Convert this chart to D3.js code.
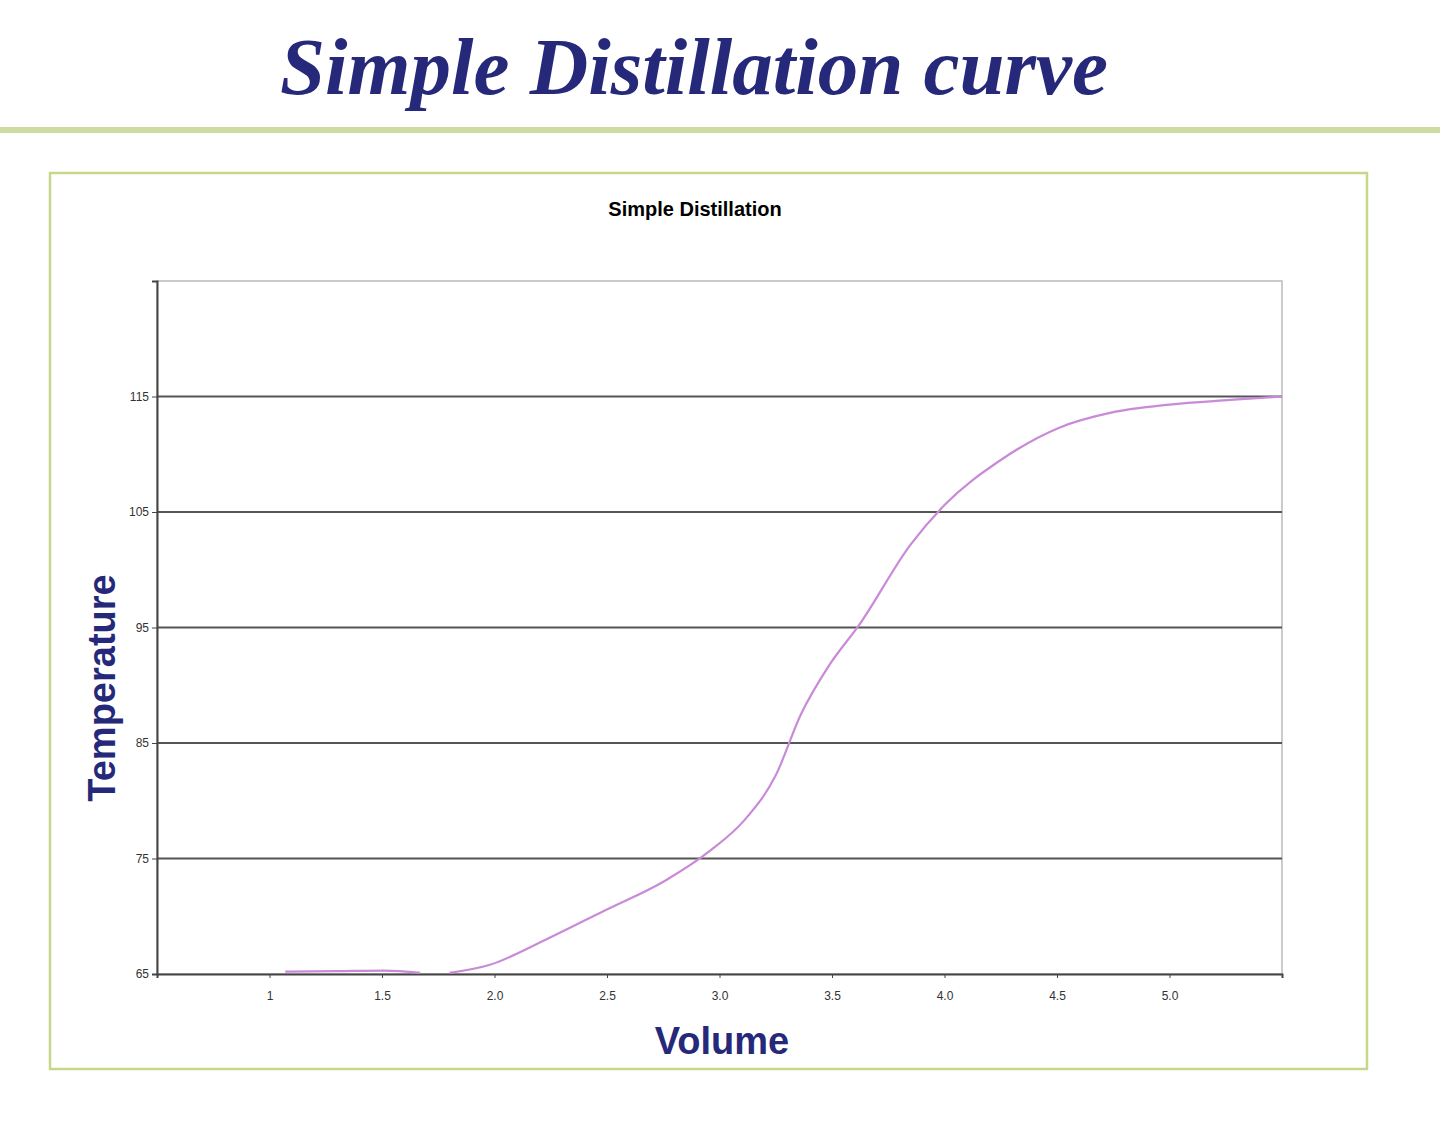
<!DOCTYPE html>
<html>
<head>
<meta charset="utf-8">
<script src="https://cdn.jsdelivr.net/npm/d3@7"></script>
<style>
  body { margin: 0; background: #fff; }
</style>
</head>
<body>
<svg id="chart" width="1440" height="1126"></svg>
<script>
'use strict';

// volume / temperature readings (null = break in the line)
const volume = [1.07, 1.3, 1.51, 1.67, null, 1.80, 1.98, 2.22, 2.49, 2.76, 2.96, 3.11, 3.25, 3.36, 3.49, 3.62, 3.85, 4.0, 4.25, 4.51, 4.74, 5.0, 5.27, 5.5];
const temperature = [65.2, 65.25, 65.3, 65.1, null, 65.1, 65.8, 67.9, 70.5, 73.1, 75.7, 78.3, 82.2, 87.4, 91.8, 95.2, 102.2, 105.6, 109.5, 112.3, 113.6, 114.3, 114.7, 115];
const x_ticks = [1, 1.5, 2.0, 2.5, 3.0, 3.5, 4.0, 4.5, 5.0];
const x_labels = ['1', '1.5', '2.0', '2.5', '3.0', '3.5', '4.0', '4.5', '5.0'];
const y_ticks = [65, 75, 85, 95, 105, 115];

const svg = d3.select('#chart');
const navy = '#26297a';

svg.append('text')
    .attr('x', 694).attr('y', 94)
    .attr('text-anchor', 'middle')
    .style('font-family', 'Liberation Serif, serif')
    .style('font-style', 'italic').style('font-weight', 'bold')
    .style('font-size', '81px').style('fill', navy)
    .text('Simple Distillation curve');

svg.append('rect')
    .attr('x', 0).attr('y', 127).attr('width', 1440).attr('height', 6)
    .style('fill', '#cbdc9e');

svg.append('rect')
    .attr('x', 50).attr('y', 173).attr('width', 1317).attr('height', 896)
    .style('fill', 'none').style('stroke', '#c5d889').style('stroke-width', 2.5);

svg.append('text')
    .attr('x', 695).attr('y', 216)
    .attr('text-anchor', 'middle')
    .style('font-family', 'Liberation Sans Narrow, Liberation Sans, sans-serif')
    .style('font-weight', 'bold').style('font-size', '20px')
    .text('Simple Distillation');

const x = d3.scaleLinear().domain([0.5, 5.5]).range([157, 1282]);
const y = d3.scaleLinear().domain([65, 125]).range([974, 281]);

// plot frame
svg.append('rect')
    .attr('x', 157).attr('y', 281).attr('width', 1125).attr('height', 693)
    .style('fill', 'none').style('stroke', '#bbb').style('stroke-width', 1.5);

// gridlines
svg.selectAll('.grid').data(y_ticks.slice(1)).join('line')
    .attr('x1', 157).attr('x2', 1282)
    .attr('y1', d => y(d)).attr('y2', d => y(d))
    .style('stroke', '#555').style('stroke-width', 2);

const xAxis = svg.append('g')
    .attr('transform', `translate(0,${y(65)})`)
    .call(d3.axisBottom(x).tickValues(x_ticks.concat([5.5]))
        .tickFormat((d, i) => x_labels[i] || '').tickSize(4));
const yAxis = svg.append('g')
    .attr('transform', `translate(157,0)`)
    .call(d3.axisLeft(y).tickValues(y_ticks.concat([125])).tickFormat(d => d === 125 ? '' : d).tickSize(5));
[xAxis, yAxis].forEach(g => {
    g.select('.domain').style('stroke', '#444').style('stroke-width', 2);
    g.selectAll('line').style('stroke', '#444');
    g.selectAll('text')
        .style('font-family', 'Liberation Sans Narrow, sans-serif')
        .style('font-size', '12px').style('fill', '#333');
});
xAxis.selectAll('text').attr('dy', '1.6em');

const line = d3.line()
    .defined((d, i) => volume[i] !== null)
    .x((d, i) => x(volume[i]))
    .y((d, i) => y(temperature[i]))
    .curve(d3.curveMonotoneX);

svg.append('path')
    .datum(volume)
    .attr('d', line)
    .style('fill', 'none').style('stroke', '#c98ad8').style('stroke-width', 2.2);

svg.append('text')
    .attr('x', 722).attr('y', 1054)
    .attr('text-anchor', 'middle')
    .style('font-family', 'Liberation Sans, Arial, sans-serif')
    .style('font-weight', 'bold').style('font-size', '38px').style('fill', navy)
    .text('Volume');

svg.append('text')
    .attr('transform', 'translate(115,688) rotate(-90)')
    .attr('text-anchor', 'middle')
    .style('font-family', 'Liberation Sans, Arial, sans-serif')
    .style('font-weight', 'bold').style('font-size', '38px').style('fill', navy)
    .text('Temperature');
</script>
</body>
</html>
